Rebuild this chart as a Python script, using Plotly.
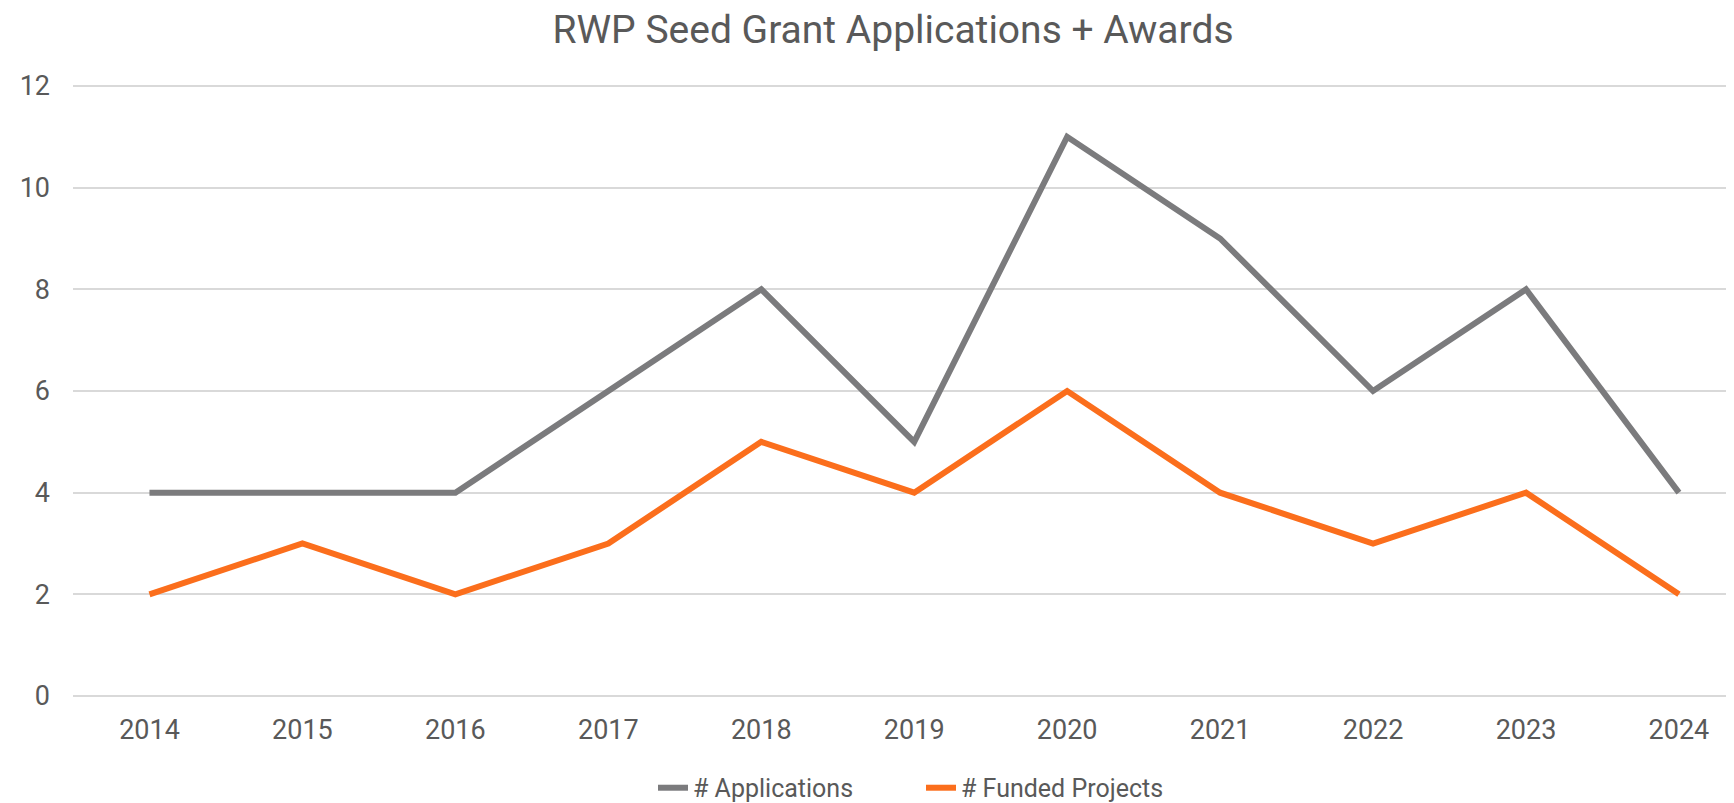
import plotly.graph_objects as go

years = ["2014", "2015", "2016", "2017", "2018", "2019", "2020", "2021", "2022", "2023", "2024"]
applications = [4, 4, 4, 6, 8, 5, 11, 9, 6, 8, 4]
funded = [2, 3, 2, 3, 5, 4, 6, 4, 3, 4, 2]
y_ticks = [0, 2, 4, 6, 8, 10, 12]

FONT = "Roboto"
TXT = "#595959"
GRID = "#d9d9d9"

fig = go.Figure()
fig.add_trace(go.Scatter(x=years, y=applications, mode="lines", name="# Applications",
                         line=dict(color="#7b7b7d", width=6)))
fig.add_trace(go.Scatter(x=years, y=funded, mode="lines", name="# Funded Projects",
                         line=dict(color="#fb6e1c", width=6)))

# The page body has an 8px margin, so the figure is sized and offset to compensate.
fig.update_layout(
    width=1726, height=795,
    paper_bgcolor="white", plot_bgcolor="white",
    margin=dict(l=65, r=0, t=75, b=104, pad=0, autoexpand=False),
    title=dict(text="RWP Seed Grant Applications + Awards", x=0.4937, xanchor="center",
               xref="paper", y=0.973, yanchor="middle",
               font=dict(family=FONT, size=39, color=TXT)),
    font=dict(family=FONT, color=TXT),
    xaxis=dict(type="category", range=[-0.5, 10.36], showgrid=False, zeroline=False,
               showline=False, ticks="", tickfont=dict(size=27, color=TXT), ticklabelstandoff=12),
    yaxis=dict(range=[-0.059, 12.059], tickvals=y_ticks, showgrid=True, gridcolor=GRID,
               gridwidth=2, zeroline=True, zerolinecolor=GRID, zerolinewidth=2,
               showline=False, ticks="", tickfont=dict(size=27, color=TXT),
               ticklabelstandoff=22),
    legend=dict(orientation="h", x=0.3492, xanchor="left", yref="container", y=0.0189,
                yanchor="middle", font=dict(size=25, color=TXT), itemwidth=30,
                traceorder="normal", entrywidth=223, entrywidthmode="pixels"),
    showlegend=True,
)

fig.write_html("out.html")
